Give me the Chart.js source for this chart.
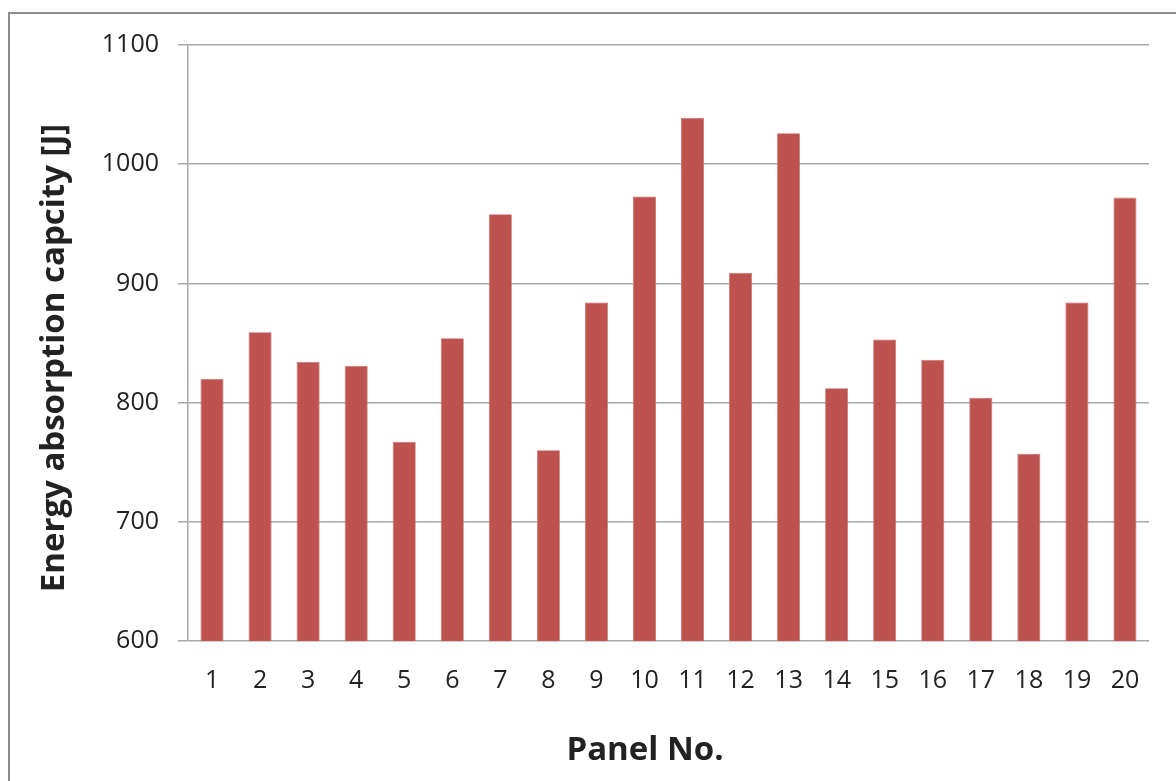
<!DOCTYPE html>
<html>
<head>
<meta charset="utf-8">
<script src="https://cdn.jsdelivr.net/npm/chart.js@4"></script>
<style>
  html, body { margin: 0; padding: 0; background: #fff; overflow: hidden; }
  #wrap { width: 1176px; height: 781px; position: relative; }
</style>
</head>
<body>
<div id="wrap"><canvas id="myChart"></canvas></div>
<script>
// Panel numbers along the x axis
const panels = ['1', '2', '3', '4', '5', '6', '7', '8', '9', '10',
                '11', '12', '13', '14', '15', '16', '17', '18', '19', '20'];

// Energy absorption capacity per panel [J]
const energy = [820, 859, 834, 831, 767, 854, 958, 760, 884, 973,
                1039, 909, 1026, 812, 853, 836, 804, 757, 884, 972];

// Y axis range and step
const yMin = 600;
const yMax = 1100;
const yStep = 100;

const xTitle = 'Panel No.';
const yTitle = 'Energy absorption capcity [J]';

const textColor = '#222222';
const gridColor = '#a8a8a8';
const fontFamily = '"Open Sans", "DejaVu Sans", sans-serif';

// Outer frame and axis titles, drawn on the canvas
const framePlugin = {
    id: 'frame',
    beforeDraw(chart) {
        const c = chart.ctx;
        c.save();
        c.fillStyle = '#fff';
        c.fillRect(0, 0, chart.width, chart.height);
        c.strokeStyle = '#8c8c8c';
        c.lineWidth = 2;
        c.strokeRect(9, 13, chart.width + 20, chart.height + 20);
        c.restore();
    },
    afterDraw(chart) {
        const c = chart.ctx;
        c.save();
        c.fillStyle = textColor;
        c.font = 'bold 33px ' + fontFamily;
        c.textAlign = 'center';
        c.textBaseline = 'alphabetic';
        c.fillText(xTitle, 645, 760);

        // rotated y title, baseline on the right
        c.translate(64, 358);
        c.rotate(-Math.PI / 2);
        c.fillText(yTitle, 0, 0);
        c.restore();
    }
};

const ctx = document.getElementById('myChart').getContext('2d');

const myChart = new Chart(ctx, {
    type: 'bar',
    data: {
        labels: panels,
        datasets: [{
            label: 'Energy absorption',
            data: energy,
            backgroundColor: '#bd524f',
            borderColor: '#c9706d',
            borderWidth: 0.8,
            categoryPercentage: 1,
            barPercentage: 0.48
        }]
    },
    options: {
        responsive: true,
        maintainAspectRatio: false,
        animation: false,
        layout: {
            padding: { top: 45, left: 0, right: 27, bottom: 0 }
        },
        plugins: {
            legend: { display: false },
            tooltip: { enabled: false }
        },
        scales: {
            x: {
                grid: { display: false },
                border: { display: false },
                ticks: {
                    color: textColor,
                    font: { family: fontFamily, size: 25 },
                    padding: 17,
                    maxRotation: 0,
                    autoSkip: false
                },
                afterFit(scale) {
                    scale.height = 140;
                }
            },
            y: {
                min: yMin,
                max: yMax,
                grid: {
                    color: gridColor,
                    lineWidth: 1.5,
                    drawTicks: true,
                    tickLength: 10
                },
                border: { display: true, color: gridColor, width: 1.5 },
                ticks: {
                    stepSize: yStep,
                    color: textColor,
                    font: { family: fontFamily, size: 25 },
                    padding: 19,
                    callback: (value) => String(value)
                },
                afterFit(scale) {
                    scale.width = 188;
                }
            }
        }
    },
    plugins: [framePlugin]
});
</script>
</body>
</html>
